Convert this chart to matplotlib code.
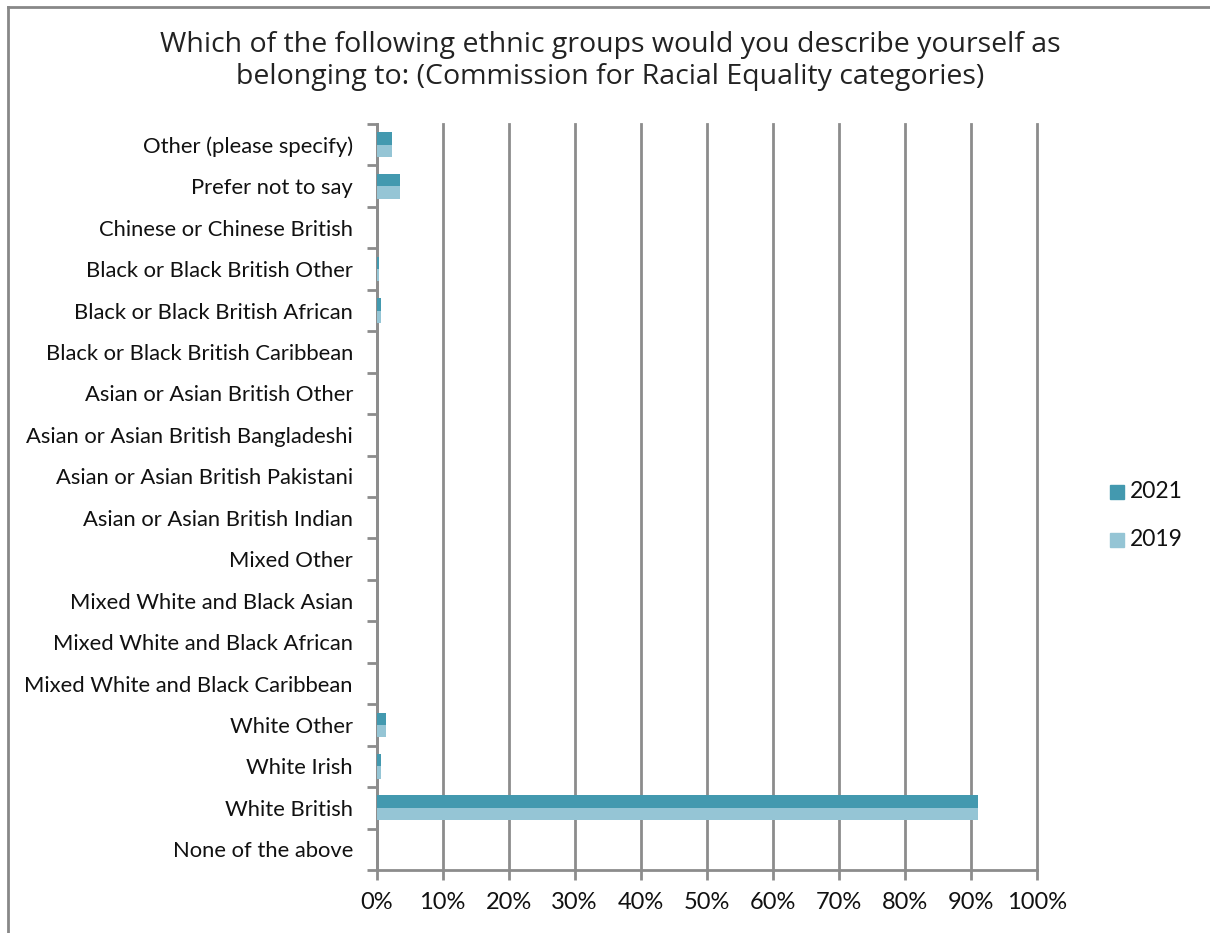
import matplotlib
matplotlib.use("Agg")
import matplotlib.pyplot as plt
import numpy as np
from matplotlib.lines import Line2D
from matplotlib.patches import Rectangle

categories = [
    "Other (please specify)", "Prefer not to say", "Chinese or Chinese British",
    "Black or Black British Other", "Black or Black British African",
    "Black or Black British Caribbean", "Asian or Asian British Other",
    "Asian or Asian British Bangladeshi", "Asian or Asian British Pakistani",
    "Asian or Asian British Indian", "Mixed Other", "Mixed White and Black Asian",
    "Mixed White and Black African", "Mixed White and Black Caribbean",
    "White Other", "White Irish", "White British", "None of the above",
]
values_2021 = [2.4, 3.5, 0, 0.4, 0.7, 0, 0, 0, 0, 0, 0, 0, 0, 0, 1.4, 0.7, 91.0, 0]
values_2019 = [2.4, 3.5, 0, 0.4, 0.7, 0, 0, 0, 0, 0, 0, 0, 0, 0, 1.4, 0.7, 91.0, 0]
xticks = list(range(0, 101, 10))
xtick_labels = [f"{v}%" for v in xticks]

c2021 = "#4399AF"
c2019 = "#95C5D5"
grid_c = "#8C8C8C"

W, H = 1210, 933
fig = plt.figure(figsize=(W / 100, H / 100), dpi=100)
ax = fig.add_axes([376.5 / W, 1 - 870 / H, (1037 - 376.5) / W, (870 - 124) / H])

n = len(categories)
ypos = np.arange(n)[::-1]  # top category at top
bh = 0.3
ax.barh(ypos + bh / 2, values_2021, height=bh, color=c2021, label="2021", zorder=5)
ax.barh(ypos - bh / 2, values_2019, height=bh, color=c2019, label="2019", zorder=5)

ax.set_xlim(0, 100)
ax.set_ylim(-0.5, n - 0.5)
ax.set_xticks(xticks)
ax.set_xticklabels(xtick_labels, fontfamily="Lato", fontsize=17, color="#111111")
ax.set_yticks(ypos)
ax.set_yticklabels(categories, fontfamily="Lato", fontsize=15.8, color="#111111")
ax.set_yticks(np.arange(-0.5, n, 1.0), minor=True)
ax.tick_params(axis="y", which="major", length=0, pad=17)
ax.tick_params(axis="y", which="minor", length=7, width=2, color=grid_c, direction="out")
ax.tick_params(axis="x", which="major", length=7, width=2, color=grid_c, direction="out", pad=9)

ax.grid(axis="x", color=grid_c, linewidth=2, zorder=1)
for gl in ax.get_xgridlines():
    gl.set_clip_on(False)
ax.set_axisbelow(True)
for s in ["top", "right"]:
    ax.spines[s].set_visible(False)
for s in ["left", "bottom"]:
    ax.spines[s].set_color(grid_c)
    ax.spines[s].set_linewidth(2)
    ax.spines[s].set_zorder(4)

fig.text(0.5 * (155 + 1065) / W, 1 - 45 / H,
         "Which of the following ethnic groups would you describe yourself as",
         ha="center", va="center", fontfamily="Open Sans", fontsize=20.5, color="#222222")
fig.text(0.5 * (228 + 993) / W, 1 - 77 / H,
         "belonging to: (Commission for Racial Equality categories)",
         ha="center", va="center", fontfamily="Open Sans", fontsize=20.5, color="#222222")

# legend
for yy, col, lab in [(492, c2021, "2021"), (540, c2019, "2019")]:
    fig.patches.append(Rectangle((1110 / W, 1 - (yy + 7) / H), 14 / W, 14 / H,
                                 transform=fig.transFigure, color=col))
    fig.text(1130 / W, 1 - yy / H, lab, ha="left", va="center",
             fontfamily="Lato", fontsize=16.5, color="#111111")

# outer border
fig.add_artist(Line2D([8 / W, 1.0], [1 - 7 / H, 1 - 7 / H], color="#888888", linewidth=2))
fig.add_artist(Line2D([8 / W, 8 / W], [1 - 7 / H, 0.0], color="#888888", linewidth=2))

fig.savefig("out.png", dpi=100)
